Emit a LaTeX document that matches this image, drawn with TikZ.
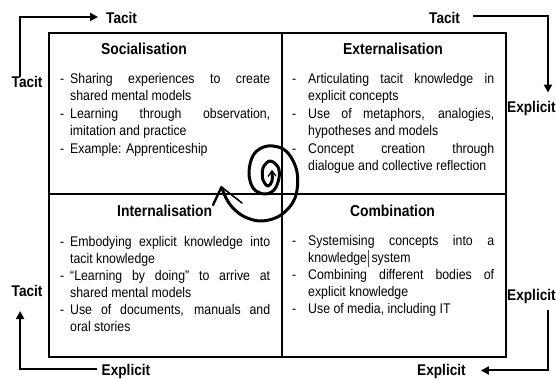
\documentclass[tikz,border=0pt]{standalone}
\usepackage{fontspec}
\setmainfont{Liberation Sans}[FakeStretch=0.88]
\usetikzlibrary{arrows.meta}

% bullet lists drawn line by line: dash + justified or ragged text
\newlength\hangw
\newlength\colw
\newcommand\bj[1]{\hbox{\hbox to\hangw{-\hss}\hbox to\colw{#1}}}
\newcommand\bl[1]{\hbox{\hbox to\hangw{-\hss}\hbox to\colw{#1\hss}}}
\newcommand\cj[1]{\hbox{\hskip\hangw\hbox to\colw{#1}}}
\newcommand\cl[1]{\hbox{\hskip\hangw\hbox to\colw{#1\hss}}}
\newcommand\itemlist[4]{\vtop{\hangw=#1\colw=#2\baselineskip=#3\lineskiplimit=-100pt\lineskip=0pt #4}}

\begin{document}
\begin{tikzpicture}[x=1pt,y=-1pt,
  cell/.style={draw, line width=1.9pt, minimum width=#1, anchor=north west, inner sep=0pt},
  heading/.style={font=\bfseries\fontsize{15.8}{18}\selectfont, inner sep=0pt, anchor=base},
  body/.style={font=\fontsize{14}{17.5}\selectfont, inner sep=0pt, anchor=base west},
  mode/.style={font=\bfseries\fontsize{15.5}{18}\selectfont, inner sep=0pt, anchor=base west},
  conn/.style={line width=2pt, -{Triangle[length=8pt,width=8pt]}},
  spiral/.style={line width=3pt, line cap=round, line join=round}]

\useasboundingbox (0,0) rectangle (556,379);

% the four quadrants
\node[cell=233pt, minimum height=161pt] (soc) at (48,32) {};
\node[cell=224pt, minimum height=161pt] (ext) at (281,32) {};
\node[cell=233pt, minimum height=163pt] (int) at (48,193) {};
\node[cell=224pt, minimum height=163pt] (com) at (281,193) {};

% headings
\node[heading] (socT) at (144,55) {Socialisation};
\node[heading] (extT) at (393,55) {Externalisation};
\node[heading] (intT) at (164.7,216.7) {Internalisation};
\node[heading] (comT) at (392.5,216.7) {Combination};

% quadrant contents
\node[body] (socL) at (60,83.5) {\itemlist{10pt}{200pt}{17.5pt}{%
  \bj{Sharing experiences to create}
  \cl{shared mental models}
  \bj{Learning through observation,}
  \cl{imitation and practice}
  \bl{Example: Apprenticeship}}};

\node[body] (extL) at (292,83.5) {\itemlist{16pt}{186pt}{17.5pt}{%
  \bj{Articulating tacit knowledge in}
  \cl{explicit concepts}
  \bj{Use of metaphors, analogies,}
  \cl{hypotheses and models}
  \bj{Concept creation through}
  \cl{dialogue and collective reflection}}};

\node[body] (intL) at (60,246.7) {\itemlist{10pt}{200pt}{17pt}{%
  \bj{Embodying explicit knowledge into}
  \cl{tacit knowledge}
  \bj{“Learning by doing” to arrive at}
  \cl{shared mental models}
  \bj{Use of documents, manuals and}
  \cl{oral stories}}};

\node[body] (comL) at (292,245) {\itemlist{16pt}{186pt}{17pt}{%
  \bj{Systemising concepts into a}
  \cl{knowledge\rlap{\kern0.6pt\color{black!70}\vrule width 0.7pt height 12pt depth 4.5pt}\kern1pt{} system}
  \bj{Combining different bodies of}
  \cl{explicit knowledge}
  \bl{Use of media, including IT}}};

% mode labels around the matrix
\node[mode] (tacitT)  at (106,24)    {Tacit};
\node[mode] (tacitL)  at (11.5,88)   {Tacit};
\node[mode] (tacitTR) at (429,24)    {Tacit};
\node[mode] (explR)   at (507,113)   {Explicit};
\node[mode] (explR2)  at (507,300)   {Explicit};
\node[mode] (explB)   at (417,375.5) {Explicit};
\node[mode] (explBL)  at (101.5,375.5) {Explicit};
\node[mode] (tacitL2) at (11.5,296.7){Tacit};

% connectors between the labels
\draw[conn, shorten >=8pt]
  ([xshift=-7pt]tacitL.north) |- ([yshift=1.5pt]tacitT.west);
\draw[conn, shorten <=13pt, shorten >=9pt]
  ([yshift=2pt]tacitTR.east) -| ([xshift=16.5pt]explR.north);
\draw[conn, shorten <=6.5pt, shorten >=15pt]
  ([xshift=16.5pt]explR2.south) |- ([yshift=1pt]explB.east);
\draw[conn, shorten <=4.5pt, shorten >=14pt]
  ([yshift=2pt]explBL.west) -| ([xshift=-7pt]tacitL2.south);

% knowledge spiral
\draw[spiral] plot[smooth, tension=0.6] coordinates {
  (272,172) (272,181) (268,186) (263,180) (263,168) (270,161)
  (278,167) (279,178) (274,190) (264,194) (253,188) (249,172)
  (254,154) (268,146) (286,151) (297,172) (295,198) (281,215)
  (262,221) (245,217) (233,208) (226,198) (222,188)};
\coordinate (tipIn) at (272,171);
\coordinate (tipOut) at (221.5,187);
\draw[line width=1.3pt, line join=miter] (268,176.5) -- (tipIn) -- (276,176);
\draw[line width=2.4pt, line cap=round] (tipOut) -- (213,205);
\draw[line width=1.6pt, line cap=round] (tipOut) -- (242,203);

\end{tikzpicture}
\end{document}
